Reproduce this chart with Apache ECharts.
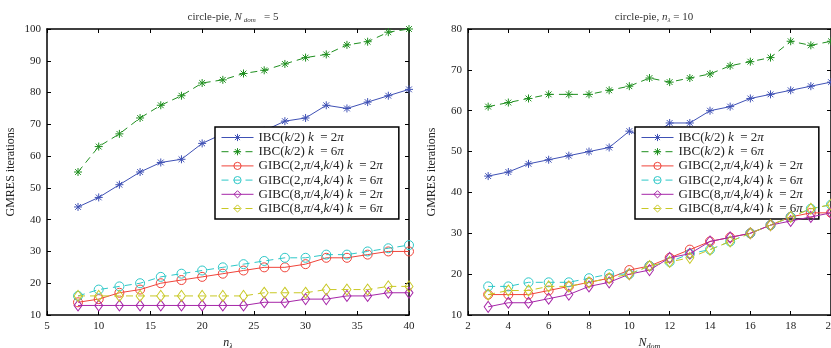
<!DOCTYPE html>
<html><head><meta charset="utf-8">
<script src="https://cdn.jsdelivr.net/npm/echarts@6/dist/echarts.min.js"></script>
<style>html,body{margin:0;padding:0;background:#fff}#c{width:831px;height:348px}</style>
</head><body><div id="c"></div>
<script>
// ---- data ----
const leftX = [8,10,12,14,16,18,20,22,24,26,28,30,32,34,36,38,40];
const leftIBC2 = [44,47,51,55,58,59,64,67,67,68,71,72,76,75,77,79,81];
const leftIBC6 = [55,63,67,72,76,79,83,84,86,87,89,91,92,95,96,99,100];
const leftG2_2 = [14,15,17,18,20,21,22,23,24,25,25,26,28,28,29,30,30];
const leftG2_6 = [16,18,19,20,22,23,24,25,26,27,28,28,29,29,30,31,32];
const leftG8_2 = [13,13,13,13,13,13,13,13,13,14,14,15,15,16,16,17,17];
const leftG8_6 = [16,16,16,16,16,16,16,16,16,17,17,17,18,18,18,19,19];

const rightX = [3,4,5,6,7,8,9,10,11,12,13,14,15,16,17,18,19,20];
const rightIBC2 = [44,45,47,48,49,50,51,55,53,57,57,60,61,63,64,65,66,67];
const rightIBC6 = [61,62,63,64,64,64,65,66,68,67,68,69,71,72,73,77,76,77];
const rightG2_2 = [15,15,15,16,17,18,19,21,22,24,26,28,29,30,32,34,35,35];
const rightG2_6 = [17,17,18,18,18,19,20,20,22,23,25,26,28,30,32,34,36,37];
const rightG8_2 = [12,13,13,14,15,17,18,20,21,24,25,28,29,30,32,33,34,35];
const rightG8_6 = [15,16,16,17,17,18,19,20,22,23,24,26,28,30,32,34,36,37];

const seriesNames = ['IBC(k/2) k = 2π','IBC(k/2) k = 6π','GIBC(2,π/4,k/4) k = 2π','GIBC(2,π/4,k/4) k = 6π','GIBC(8,π/4,k/4) k = 2π','GIBC(8,π/4,k/4) k = 6π'];
const legendRich = [
  '{n|IBC(}{i|k}{n|/2) }{i|k}{n|  = 2}{i|π}',
  '{n|IBC(}{i|k}{n|/2) }{i|k}{n|  = 6}{i|π}',
  '{n|GIBC(2,}{i|π}{n|/4,}{i|k}{n|/4) }{i|k}{n|  = 2}{i|π}',
  '{n|GIBC(2,}{i|π}{n|/4,}{i|k}{n|/4) }{i|k}{n|  = 6}{i|π}',
  '{n|GIBC(8,}{i|π}{n|/4,}{i|k}{n|/4) }{i|k}{n|  = 2}{i|π}',
  '{n|GIBC(8,}{i|π}{n|/4,}{i|k}{n|/4) }{i|k}{n|  = 6}{i|π}'
];
const colors = ['#3f51b5','#1f8f1f','#f0443a','#2ec8c8','#a626a8','#c8c824'];
const dashed = [false,true,false,true,false,true];
const star = 'path://M0,-5L0,5M-5,0L5,0M-3.6,-3.6L3.6,3.6M-3.6,3.6L3.6,-3.6';
const symbols = [star, star, 'circle','circle','diamond','diamond'];
const symSizes = [8, 8, 9, 9, [8,11], [8,11]];

const FONT = 'Liberation Serif';
const chart = echarts.init(document.getElementById('c'), null, {renderer:'canvas'});

function mkSeries(gi, xs, arrs) {
  return arrs.map((arr, k) => ({
    name: seriesNames[k], type: 'line', xAxisIndex: gi*2, yAxisIndex: gi*2,
    data: xs.map((x, i) => [x, arr[i]]),
    symbol: symbols[k], symbolSize: symSizes[k], showAllSymbol: true,
    lineStyle: {color: colors[k], width: 1, type: dashed[k] ? [7,5] : 'solid'},
    itemStyle: {color: k < 2 ? colors[k] : 'rgba(0,0,0,0)', borderColor: colors[k], borderWidth: 1},
    emphasis: {disabled: true}, animation: false, z: 2 + k
  }));
}

const axisLabel = {color: '#222', fontFamily: FONT, fontSize: 11, margin: 6};
function xAxes(gi, min, max, interval, nameRich) {
  return [
    {type:'value', gridIndex: gi, min, max, interval, position:'bottom',
     axisLine:{show:true, onZero:false, lineStyle:{color:'#000', width:1.5}},
     axisTick:{show:true, inside:true, length:4, lineStyle:{color:'#000'}},
     splitLine:{show:false}, axisLabel,
     name: nameRich, nameLocation:'middle', nameGap: 17,
     nameTextStyle:{fontFamily: FONT, fontSize: 12, color:'#222', rich:{
       i:{fontFamily:FONT, fontStyle:'italic', fontSize:12, color:'#222'},
       s:{fontFamily:FONT, fontStyle:'italic', fontSize:8, color:'#222', padding:[7,0,0,0]}}}},
    {type:'value', gridIndex: gi, min, max, interval, position:'top',
     axisLine:{show:true, onZero:false, lineStyle:{color:'#000', width:1.5}},
     axisTick:{show:true, inside:true, length:4, lineStyle:{color:'#000'}},
     axisLabel:{show:false}, splitLine:{show:false}}
  ];
}
function yAxes(gi, min, max, interval) {
  return [
    {type:'value', gridIndex: gi, min, max, interval, position:'left',
     axisLine:{show:true, onZero:false, lineStyle:{color:'#000', width:1.5}},
     axisTick:{show:true, inside:true, length:4, lineStyle:{color:'#000'}},
     splitLine:{show:false}, axisLabel,
     name:'GMRES iterations', nameLocation:'middle', nameGap: 30,
     nameTextStyle:{fontFamily: FONT, fontSize: 12, color:'#222'}},
    {type:'value', gridIndex: gi, min, max, interval, position:'right',
     axisLine:{show:true, onZero:false, lineStyle:{color:'#000', width:1.5}},
     axisTick:{show:true, inside:true, length:4, lineStyle:{color:'#000'}},
     axisLabel:{show:false}, splitLine:{show:false}}
  ];
}

const legendData = seriesNames.map((name, k) => ({
  name,
  itemStyle: {color: k < 2 ? colors[k] : 'rgba(0,0,0,0)', borderColor: colors[k], borderWidth: 1},
  lineStyle: {color: colors[k], width: 1, type: dashed[k] ? [7,5] : 'solid'}
}));

const legendBase = {
  orient:'vertical', backgroundColor:'#fff', borderColor:'#000', borderWidth:1.5,
  itemWidth: 32, itemHeight: 9, itemGap: 1.2, padding:[4,16,4,6],
  formatter: (name) => legendRich[seriesNames.indexOf(name)],
  textStyle:{fontFamily: FONT, fontSize: 13, color:'#222', lineHeight: 13,
    rich:{n:{fontFamily:FONT, fontSize:13, color:'#222', lineHeight:13}, i:{fontFamily:FONT, fontSize:13, fontStyle:'italic', color:'#222', lineHeight:13}}},
  data: legendData, selectedMode: false
};

const titleRich = {
  n:{fontFamily:FONT, fontSize:11, fontWeight:'normal', color:'#333'},
  i:{fontFamily:FONT, fontSize:11, fontWeight:'normal', fontStyle:'italic', color:'#333'},
  s:{fontFamily:FONT, fontSize:7, fontWeight:'normal', fontStyle:'italic', color:'#333', padding:[7,0,0,0]}
};

chart.setOption({
  backgroundColor:'#fff',
  animation:false,
  title:[
    {text:'{n|circle-pie, }{i|N}{s| dom}{n|   = 5}', left: 228, top: 5, textAlign:'center', textStyle:{fontWeight:'normal', rich:titleRich}},
    {text:'{n|circle-pie, }{i|n}{s|λ}{n| = 10}', left: 649, top: 5, textAlign:'center', textStyle:{fontWeight:'normal', rich:titleRich}}
  ],
  grid:[
    {left:47, width:362, top:29, bottom:33, show:false, outerBoundsMode:'none', containLabel:false},
    {left:468, width:363, top:29, bottom:33, show:false, outerBoundsMode:'none', containLabel:false}
  ],
  xAxis:[...xAxes(0,5,40,5,'{i|n}{s|λ}'), ...xAxes(1,2,20,2,'{i|N}{s|dom}')],
  yAxis:[...yAxes(0,10,100,10), ...yAxes(1,10,80,10)],
  legend:[
    Object.assign({left:215, top:127}, legendBase),
    Object.assign({left:635, top:127}, legendBase)
  ],
  series:[
    ...mkSeries(0, leftX, [leftIBC2,leftIBC6,leftG2_2,leftG2_6,leftG8_2,leftG8_6]),
    ...mkSeries(1, rightX, [rightIBC2,rightIBC6,rightG2_2,rightG2_6,rightG8_2,rightG8_6])
  ]
});
</script></body></html>
